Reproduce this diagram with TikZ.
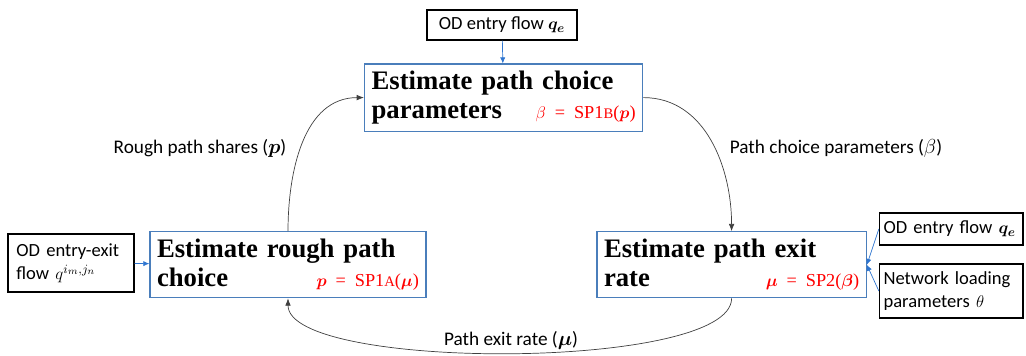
\documentclass[tikz,border=0pt]{standalone}
\usepackage{amsmath,amssymb,bm}
\usepackage{fontspec}
\setsansfont{Carlito}
\newfontfamily\formfont{Liberation Serif}
\newfontfamily\stagefont{Liberation Serif}
\usepackage{xcolor}
\usepackage{tikz}
\usetikzlibrary{arrows.meta,positioning}
\definecolor{boxblue}{HTML}{4A7EBB}
\definecolor{feedblue}{HTML}{2E75D0}
\definecolor{formred}{HTML}{FF0000}
\definecolor{loopgray}{HTML}{404040}
\newcommand{\spsub}[1]{\scalebox{0.8}{#1}}
\newcommand{\formula}[1]{\hspace{0pt plus 1filll}{\formfont\fontsize{13}{15}\selectfont\color{formred}\mdseries #1}}

\begin{document}
\begin{tikzpicture}[
  stage/.style={draw=boxblue,line width=0.9pt,align=left,inner sep=5pt,
    minimum height=#1,font=\stagefont\fontsize{19}{20.5}\selectfont\bfseries},
  inputbox/.style={draw=black,line width=0.8pt,align=left,inner sep=4pt,inner xsep=3pt,
    font=\sffamily\fontsize{13.2}{16.5}\selectfont},
  looplabel/.style={font=\sffamily\fontsize{13.7}{16}\selectfont},
  feed/.style={-{Latex[length=1.5mm,width=1.3mm]},feedblue,line width=0.5pt},
  loop/.style={-{Latex[length=1.8mm,width=1.4mm]},loopgray,line width=0.5pt}]
  \useasboundingbox (0,0) rectangle (25.65,8.9);

  \node[stage=1.625cm,text width=6.6cm] (pcb) at (12.59,6.46)
    {Estimate path choice\\parameters\formula{$\beta$ = SP1\spsub{B}($\bm{p}$)}};
  \node[stage=1.65cm,text width=6.55cm] (rpc) at (7.2,2.28)
    {Estimate rough path\\choice\formula{$\bm{p}$ = SP1\spsub{A}($\bm{\mu}$)}};
  \node[stage=1.65cm,text width=6.38cm] (per) at (18.29,2.28)
    {Estimate path exit\\rate\formula{$\bm{\mu}$ = SP2($\bm{\beta}$)}};

  \node[inputbox,minimum width=3.75cm,minimum height=0.75cm,align=center] (qtop) at (12.55,8.275)
    {OD entry flow $\bm{q_e}$};
  \node[inputbox,inner xsep=6pt,minimum height=1.45cm,text width=2.73cm] (qij) at (1.775,2.325)
    {OD entry-exit\\flow $q^{i_m,j_n}$};
  \node[inputbox,minimum height=0.8cm,text width=3.38cm] (qright) at (23.78,3.175)
    {OD entry flow $\bm{q_e}$};
  \node[inputbox,minimum height=1.35cm,text width=3.38cm] (theta) at (23.78,1.625)
    {Network loading\\parameters $\theta$};

  \draw[feed] (qtop) -- (pcb);
  \draw[feed] (qij) -- (rpc);
  \draw[feed] (qright.west) -- (per.east);
  \draw[feed] (theta.west) -- (per.east);

  \draw[loop] (rpc.north) to[out=90,in=180] (pcb.west);
  \draw[loop] (pcb.east) to[out=0,in=90] (per.north);
  \draw[loop] (per.south) to[out=-90,in=-90,looseness=0.42] (rpc.south);

  \node[looplabel] (shares) at (5.0,5.2) {Rough path shares ($\bm{p}$)};
  \node[looplabel] (params) at (20.9,5.2) {Path choice parameters ($\beta$)};
  \node[looplabel] (exitrate) at (12.775,0.4) {Path exit rate ($\bm{\mu}$)};
\end{tikzpicture}
\end{document}
